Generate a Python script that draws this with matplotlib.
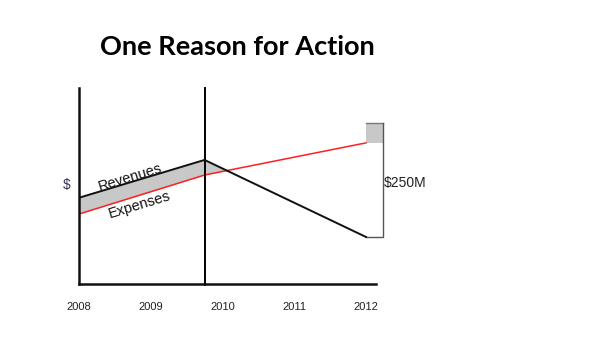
import matplotlib
matplotlib.use("Agg")
import matplotlib.pyplot as plt
import numpy as np

# data (arbitrary $ units)
years = [2008, 2009, 2010, 2011, 2012]
turn_x = 2009.75
line_x = [2008, turn_x, 2012]
revenues = [44.0, 63.3, 24.0]
expenses = [35.7, 55.6, 72.0]
gap_top = 82.1          # top of the grey $250M box
gap_label = "$250M"

fig = plt.figure(figsize=(6, 3.6), dpi=100)
ax = fig.add_axes([79 / 600, 76 / 360, 297 / 600, 196 / 360])

ax.set_xlim(2008, 2012.14)
ax.set_ylim(0, 100)

# shaded area where revenues exceed expenses
xs = np.linspace(2008, 2012, 400)
rev_i = np.interp(xs, line_x, revenues)
exp_i = np.interp(xs, line_x, expenses)
ax.fill_between(xs, exp_i, rev_i, where=rev_i >= exp_i, interpolate=True,
                color="#c8c8c8", lw=0, zorder=1)

ax.plot(line_x, revenues, color="#111111", lw=1.4, zorder=3)
ax.plot(line_x, expenses, color="#ff2020", lw=1.1, zorder=2)

# vertical marker line
ax.axvline(turn_x, ymin=-0.005, ymax=1, color="black", lw=1.4, clip_on=False)

# grey box and bracket at the right
box_w = 0.24
ax.add_patch(plt.Rectangle((2012, expenses[-1]), box_w, gap_top - expenses[-1],
                           facecolor="#c8c8c8", lw=0, clip_on=False, zorder=1))
ax.plot([2012, 2012 + box_w], [gap_top, gap_top], color="#777777", lw=1.0,
        clip_on=False)
ax.plot([2012, 2012 + box_w, 2012 + box_w], [revenues[-1], revenues[-1], gap_top],
        color="#555555", lw=1.0, clip_on=False)
ax.text(2012 + box_w + 0.01, 51.5, gap_label, fontsize=10, family="Liberation Sans",
        ha="left", va="center", color="#222222")

# rotated line labels
ax.text(2008.72, 54.5, "Revenues", rotation=17, fontsize=10.5,
        family="Liberation Sans", ha="center", va="center", color="#111111")
ax.text(2008.85, 40.3, "Expenses", rotation=17, fontsize=10.5,
        family="Liberation Sans", ha="center", va="center", color="#111111")

ax.set_xticks(years, labels=[str(y) for y in years])
ax.tick_params(axis="x", length=0, pad=13, labelsize=8, labelcolor="#222222")
for lbl in ax.get_xticklabels():
    lbl.set_family("Liberation Sans")
ax.set_yticks([])

for s in ["top", "right"]:
    ax.spines[s].set_visible(False)
for s in ["left", "bottom"]:
    ax.spines[s].set_linewidth(1.8)
    ax.spines[s].set_color("#111111")

fig.text(67 / 600, 1 - 185 / 360, "$", fontsize=10, family="Liberation Sans",
         ha="center", va="center", color="#333355")
fig.text(237 / 600, 1 - 47 / 360, "One Reason for Action", fontsize=19.5,
         family="Lato", fontweight="bold", ha="center", va="center")

fig.savefig("out.png", dpi=100)
